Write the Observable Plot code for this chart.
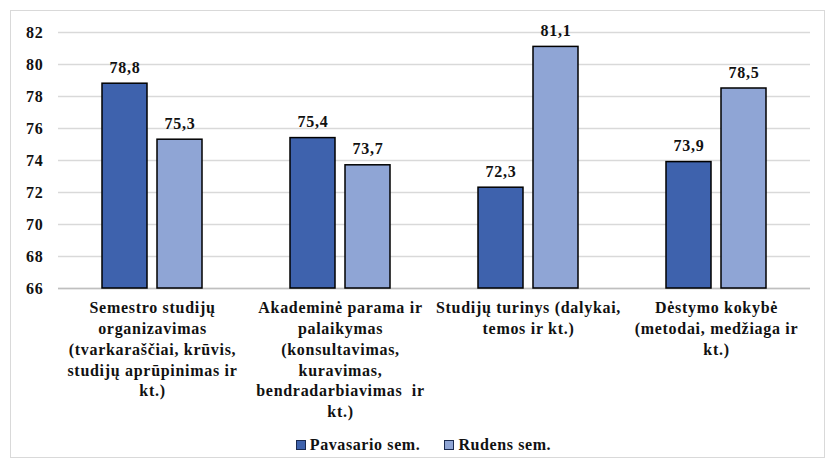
<!DOCTYPE html>
<html><head><meta charset="utf-8">
<script src="https://cdn.jsdelivr.net/npm/d3@7"></script>
<script src="https://cdn.jsdelivr.net/npm/@observablehq/plot@0.6"></script>
</head><body style="margin:0;background:#fff;font-family:'Liberation Serif' !important">
<div id="frame" style="position:absolute;left:10px;top:10px;width:813px;height:446px;border:1px solid #d9d9d9;background:#fff"><div id="chart"></div><div id="legend" style="position:absolute;left:6px;width:813px;top:425px;text-align:center;font-family:'Liberation Serif' !important;font-weight:bold;font-size:16px;letter-spacing:0.6px;color:#111"></div></div>
<script>
const categories = [
  "Semestro studijų organizavimas",
  "Akademinė parama ir palaikymas",
  "Studijų turinys",
  "Dėstymo kokybė"
];
const categoryLabels = [
  "Semestro studijų\norganizavimas\n(tvarkaraščiai, krūvis,\nstudijų aprūpinimas ir\nkt.)",
  "Akademinė parama ir\npalaikymas\n(konsultavimas,\nkuravimas,\nbendradarbiavimas  ir\nkt.)",
  "Studijų turinys (dalykai,\ntemos ir kt.)",
  "Dėstymo kokybė\n(metodai, medžiaga ir\nkt.)"
];
const seriesNames = ["Pavasario sem.", "Rudens sem."];
const pavasario = [78.8, 75.4, 72.3, 73.9];
const rudens = [75.3, 73.7, 81.1, 78.5];
const yTicks = [66, 68, 70, 72, 74, 76, 78, 80, 82];
const colors = ["#3e62ad", "#8fa5d5"];

const data = [];
categories.forEach((c, i) => {
  data.push({cat: c, series: seriesNames[0], value: pavasario[i]});
  data.push({cat: c, series: seriesNames[1], value: rudens[i]});
});
const fmt = v => v.toFixed(1).replace(".", ",");
const yMin = yTicks[0];
const serif = "'Liberation Serif'";

const chart = Plot.plot({
  width: 813,
  height: 412,
  marginLeft: 46,
  marginRight: 14,
  marginTop: 21,
  marginBottom: 135,
  style: {fontSize: "15px", fontWeight: "bold", color: "#111"},
  fx: {domain: categories, padding: 0},
  x: {domain: seriesNames, paddingInner: 0.18, paddingOuter: 0.77, axis: null},
  y: {domain: [yTicks[0], yTicks[yTicks.length - 1]], ticks: yTicks},
  color: {domain: seriesNames, range: colors},
  marks: [
    Plot.gridY(yTicks, {stroke: "#d9d9d9", strokeOpacity: 1, strokeWidth: 1.5}),
    Plot.axisY(yTicks, {tickSize: 0, tickPadding: 15, label: null, fontSize: 16, fontWeight: "bold", tickFormat: d => d}),
    Plot.axisFx({anchor: "bottom", tickSize: 0, tickPadding: 10, label: null, fontSize: 16, lineHeight: 1.3,
      tickFormat: d => categoryLabels[categories.indexOf(d)]}),
    Plot.ruleY([yMin], {stroke: "#bfbfbf", strokeWidth: 1.5}),
    Plot.barY(data, {fx: "cat", x: "series", y1: () => yMin, y2: "value", fill: "series", stroke: "#000", strokeWidth: 1.5}),
    Plot.text(data, {fx: "cat", x: "series", y: "value", text: d => fmt(d.value), lineAnchor: "bottom", dy: -11, fontSize: 16, fontWeight: "bold", fill: "#111"})
  ]
});
chart.style.setProperty("font-family", serif, "important");
chart.querySelectorAll("text, tspan").forEach(el => {
  el.style.setProperty("font-family", serif, "important");
  el.style.letterSpacing = "0.7px";
});
document.getElementById("chart").appendChild(chart);

const legend = document.getElementById("legend");
seriesNames.forEach((s, i) => {
  const item = document.createElement("span");
  item.style.cssText = "margin:0 12px;white-space:nowrap";
  item.style.setProperty("font-family", serif, "important");
  const sw = document.createElement("span");
  sw.style.cssText = "display:inline-block;width:8px;height:8px;border:1px solid #1a2a50;margin-right:4px;vertical-align:0px";
  sw.style.background = colors[i];
  item.appendChild(sw);
  item.appendChild(document.createTextNode(s));
  legend.appendChild(item);
});
</script>
</body></html>
